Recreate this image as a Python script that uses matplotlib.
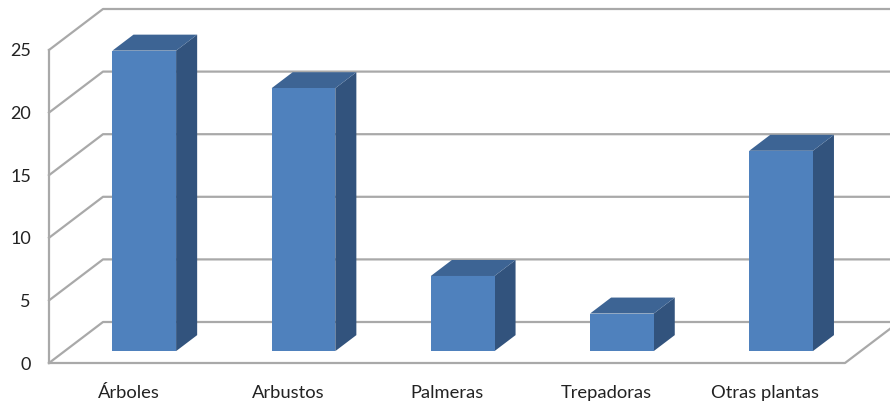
import matplotlib
matplotlib.use("Agg")
import matplotlib.pyplot as plt
from matplotlib.patches import Polygon

categories = ["Árboles", "Arbustos", "Palmeras", "Trepadoras", "Otras plantas"]
values = [24, 21, 6, 3, 16]
y_ticks = [0, 5, 10, 15, 20, 25]

W, H = 890, 405
plt.rcParams["font.family"] = ["Lato", "DejaVu Sans"]
fig = plt.figure(figsize=(W / 100, H / 100), dpi=100, facecolor="white")

# Axes span the front plane of the 3-D box
L, R, B, T = 49, 845, 363, 50
ax = fig.add_axes([L / W, 1 - B / H, (R - L) / W, (B - T) / H])
ax.set_xlim(0, 5)
ax.set_ylim(0, 25)
ax.patch.set_alpha(0)
for s in ax.spines.values():
    s.set_visible(False)

# Depth vector of the box (data units per full depth)
ux = 54 / ((R - L) / 5)
uy = 41 / ((B - T) / 25)

GRID = "#a9a9a9"
bw = 0.4
d0, d1 = 0.29, 0.68

def line(xs, ys, **kw):
    ax.plot(xs, ys, color=GRID, lw=1.6, clip_on=False, solid_capstyle="projecting", **kw)

for t in y_ticks:
    line([0, ux, 5 + ux], [t, t + uy, t + uy])
line([0, 0], [0, 25])
line([0, 5, 5 + ux], [0, 0, uy])

for i, v in enumerate(values):
    x0 = i + 0.5 - bw / 2 + d0 * ux
    x1 = x0 + bw
    y0 = d0 * uy
    y1 = y0 + v
    dx = (d1 - d0) * ux
    dy = (d1 - d0) * uy
    ax.add_patch(Polygon([(x1, y0), (x1 + dx, y0 + dy), (x1 + dx, y1 + dy), (x1, y1)],
                         fc="#32537d", ec="none", clip_on=False, zorder=3))
    ax.add_patch(Polygon([(x0, y1), (x1, y1), (x1 + dx, y1 + dy), (x0 + dx, y1 + dy)],
                         fc="#3d6494", ec="none", clip_on=False, zorder=3))
    ax.add_patch(Polygon([(x0, y0), (x1, y0), (x1, y1), (x0, y1)],
                         fc="#4f81bd", ec="none", clip_on=False, zorder=4))

ax.set_xticks([i + 0.5 for i in range(len(categories))])
ax.set_xticklabels(categories)
ax.set_yticks(y_ticks)
ax.tick_params(axis="x", length=0, pad=16, labelsize=13.2, labelcolor="#222222")
ax.tick_params(axis="y", length=0, pad=13, labelsize=13, labelcolor="#222222")

fig.savefig("out.png", dpi=100)
